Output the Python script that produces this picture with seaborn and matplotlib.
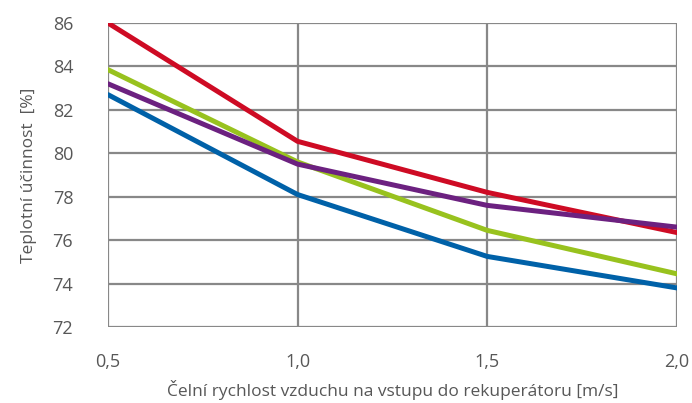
import matplotlib
matplotlib.use("Agg")
import matplotlib.pyplot as plt
import numpy as np
import pandas as pd
import seaborn as sns

# rychlost vzduchu [m/s]
rychlost = [0.5, 1.0, 1.5, 2.0]
cervena = [86.0, 80.55, 78.2, 76.35]
zelena = [83.85, 79.6, 76.45, 74.45]
fialova = [83.2, 79.5, 77.6, 76.6]
modra = [82.7, 78.1, 75.25, 73.8]
xticks = [0.5, 1.0, 1.5, 2.0]
xticklabels = ["0,5", "1,0", "1,5", "2,0"]
yticks = [72, 74, 76, 78, 80, 82, 84, 86]

rady = {"cervena": cervena, "zelena": zelena, "fialova": fialova, "modra": modra}
barvy = {"cervena": "#CE0B24", "zelena": "#98C21E", "fialova": "#6C2180", "modra": "#0061A8"}

df = pd.DataFrame({
    "x": rychlost * len(rady),
    "y": sum(rady.values(), []),
    "rada": sum([[k] * len(rychlost) for k in rady], []),
})

sns.set_theme(style="white")
plt.rcParams['font.family'] = ['Open Sans', 'DejaVu Sans']

fig = plt.figure(figsize=(6.92, 4.03), dpi=100)
ax = fig.add_axes([0.156, 0.1886, 0.822, 0.7544])

sns.lineplot(data=df, x="x", y="y", hue="rada", palette=barvy, linewidth=3.6,
             legend=False, ax=ax, zorder=3)

ax.set_xlim(0.5, 2.0)
ax.set_ylim(72, 86)
ax.set_xticks(xticks)
ax.set_xticklabels(xticklabels)
ax.set_yticks(yticks)
for s in ax.spines.values():
    s.set_visible(False)
ax.grid(True, color="#888888", linewidth=1.6, zorder=1)
ax.tick_params(axis="both", length=13, width=1.6, color="#888888",
               labelsize=13, labelcolor="#575757", direction="out")
ax.tick_params(axis="y", pad=12)
ax.tick_params(axis="x", pad=6)
ax.set_xlabel("Čelní rychlost vzduchu na vstupu do rekuperátoru [m/s]",
              fontsize=12.5, color="#575757", labelpad=6)
ax.set_ylabel("Teplotní účinnost  [%]", fontsize=12.5, color="#575757", labelpad=11)

fig.savefig("out.png", dpi=100)
